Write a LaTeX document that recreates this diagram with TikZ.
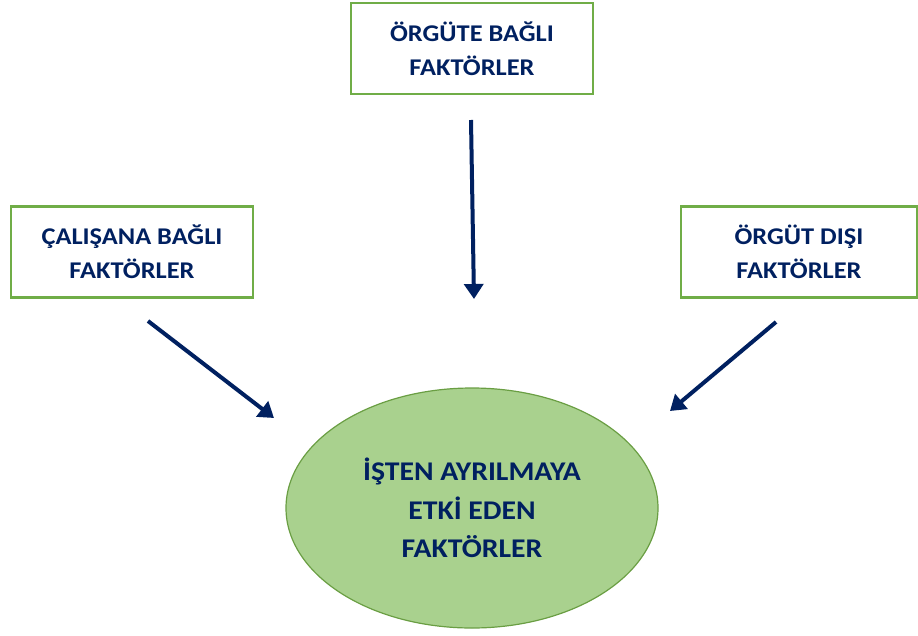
\documentclass[tikz,border=0pt]{standalone}
\usepackage{fontspec}
\setmainfont{Carlito}
\newfontfamily\labelfont[FakeStretch=1.1]{Carlito}
\usepackage{tikz}
\usetikzlibrary{arrows.meta,positioning,shapes.geometric}
\definecolor{navy}{HTML}{002060}
\definecolor{boxgreen}{HTML}{70AD47}
\definecolor{ellfill}{HTML}{A9D18E}
\definecolor{ellline}{HTML}{6A9E43}

\begin{document}
\begin{tikzpicture}[x=1pt,y=-1pt,>={Triangle[width=19pt,length=15pt]},
factor/.style={draw=boxgreen,line width=2.5pt,align=center,minimum height=91pt,minimum width=242pt,
  inner sep=0pt,text=navy,font=\labelfont\fontsize{24}{34}\selectfont\bfseries},
result/.style={ellipse,draw=ellline,line width=1.2pt,fill=ellfill,minimum width=372pt,minimum height=240pt,
  inner sep=0pt,align=center,text=navy,font=\labelfont\fontsize{27}{38.5}\selectfont\bfseries},
flow/.style={->,draw=navy,line width=4pt}]
\useasboundingbox (0,0) rectangle (918,635);
\node[factor] (orgut) at (472,48.5) {ÖRGÜTE BAĞLI\\FAKTÖRLER};
\node[factor] (calisan) at (132,252) {ÇALIŞANA BAĞLI\\FAKTÖRLER};
\node[factor,minimum width=236pt] (disi) at (799,252) {ÖRGÜT DIŞI\\FAKTÖRLER};
\node[result] (ayrilma) at (472,508) {İŞTEN AYRILMAYA\\ETKİ EDEN\\FAKTÖRLER};
% arrow ends
\coordinate (orgutA) at (471,120);
\coordinate (orgutB) at (474,299);
\coordinate (calisanA) at (148,321);
\coordinate (calisanB) at (274,418);
\coordinate (disiA) at (776,322);
\coordinate (disiB) at (670,411);
\draw[flow] (orgutA)--(orgutB);
\draw[flow] (calisanA)--(calisanB);
\draw[flow] (disiA)--(disiB);
\end{tikzpicture}
\end{document}
